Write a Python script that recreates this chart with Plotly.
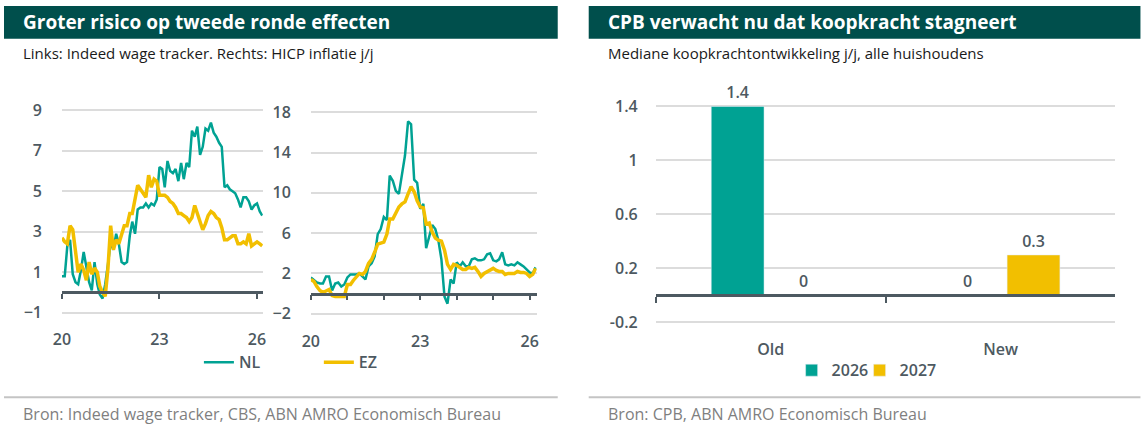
import plotly.graph_objects as go
import pandas as pd

W, H = 1145, 430

# ---------------- data ----------------
months = pd.date_range("2020-01-01", periods=75, freq="MS")

nl_wage = [0.8, 0.8, 2.3, 2.6, 0.9, 0.5, 0.4, 1.1, 2.0, 1.3, 0.5, 0.1,
           1.5, 0.4, -0.1, -0.3, 0.4, 1.4, 2.5, 2.1, 2.9, 2.4, 1.5, 1.4,
           1.5, 2.8, 3.5, 2.9, 4.1, 4.2, 4.2, 4.4, 4.2, 4.4, 4.3, 4.6,
           6.2, 6.1, 5.2, 6.5, 6.0, 5.9, 6.1, 5.5, 6.4, 5.6, 6.4, 6.2,
           8.0, 7.7, 8.2, 6.8, 7.2, 8.1, 8.0, 8.4, 7.9, 7.7, 7.4, 7.2,
           5.2, 5.3, 5.1, 5.0, 4.9, 4.6, 4.2, 4.7, 4.7, 4.5, 4.1, 4.3,
           4.4, 4.0, 3.8]

ez_wage = [2.7, 2.5, 2.4, 3.3, 3.1, 2.0, 1.0, 1.4, 1.1, 0.6, 1.5, 0.9,
           1.2, 1.0, 0.3, 0.0, -0.2, 1.2, 3.3, 2.1, 2.6, 2.4, 2.8, 3.3,
           3.3, 3.9, 3.9, 4.6, 5.3, 5.1, 4.9, 4.7, 5.8, 5.2, 5.6, 5.5,
           4.8, 4.8, 4.8, 4.7, 4.5, 4.4, 4.2, 3.9, 3.9, 3.8, 3.7, 3.5,
           3.7, 4.3, 3.9, 3.6, 3.1, 3.4, 3.8, 4.0, 3.9, 3.7, 3.6, 3.2,
           2.6, 2.6, 2.7, 2.8, 2.8, 2.4, 2.4, 2.5, 2.4, 2.9, 2.3, 2.4,
           2.5, 2.4, 2.3]

nl_hicp = [1.6, 1.3, 1.1, 1.0, 1.0, 1.7, 1.7, 0.3, 1.0, 1.1, 0.7, 0.9,
           1.6, 1.9, 1.9, 1.9, 2.0, 1.7, 1.4, 2.7, 3.0, 3.7, 5.9, 6.4,
           7.6, 7.3, 11.7, 11.2, 10.2, 9.9, 11.6, 13.7, 17.1, 16.8, 11.3, 11.0,
           8.4, 8.9, 4.5, 5.8, 6.8, 6.4, 5.3, 3.4, -0.3, -1.0, 1.4, 1.0,
           3.1, 2.7, 3.1, 2.7, 2.7, 3.4, 3.5, 3.3, 3.3, 3.4, 3.9, 4.0,
           3.3, 3.2, 3.4, 4.1, 2.9, 2.8, 2.9, 2.8, 3.1, 2.9, 2.7, 2.4,
           2.1, 2.0, 2.6]

ez_hicp = [1.4, 1.2, 0.7, 0.3, 0.1, 0.3, 0.4, -0.2, -0.3, -0.3, -0.3, -0.3,
           0.9, 0.9, 1.3, 1.6, 2.0, 1.9, 2.2, 3.0, 3.4, 4.1, 4.9, 5.0,
           5.1, 5.9, 7.4, 7.4, 8.1, 8.6, 8.9, 9.1, 9.9, 10.6, 10.1, 9.2,
           8.6, 8.5, 6.9, 7.0, 6.1, 5.5, 5.3, 5.2, 4.3, 2.9, 2.4, 2.9,
           2.8, 2.6, 2.4, 2.4, 2.6, 2.5, 2.6, 2.2, 1.7, 2.0, 2.2, 2.4,
           2.5, 2.3, 2.2, 2.2, 1.9, 2.0, 2.0, 2.0, 2.2, 2.1, 2.1, 2.0,
           1.7, 1.9, 2.5]

bar_cats = ["Old", "New"]
bar_2026 = [1.4, 0]
bar_2027 = [0, 0.3]

left_xticks = ["2020-01-01", "2023-01-01", "2026-01-01"]
left_xtext = ["20", "23", "26"]
right_xticks = ["2020-01-01", "2021-01-01", "2022-01-01", "2023-01-01",
                "2024-01-01", "2025-01-01", "2026-01-01"]
right_xtext = ["20", "", "", "23", "", "", "26"]
left_yticks = [9, 7, 5, 3, 1, -1]
right_yticks = [18, 14, 10, 6, 2, -2]
bar_yticks = [1.4, 1, 0.6, 0.2, -0.2]
bar_yticktext = ["1.4", "1", "0.6", "0.2", "-0.2"]

# ---------------- style ----------------
TEAL = "#00a293"
YELLOW = "#f2bf00"
DARK = "#004f4c"
AXIS = "#4d5961"
GRID = "#dcdcdc"
FONT = "Open Sans"

# horizontal placement correction measured from the rendered page
XOFF, XSCALE = 8.0, 0.99


def px(x):
    return ((x - XOFF) / XSCALE) / W


def py(y):
    return 1 - y / H


def zero_pos(rng, dom):
    return dom[0] + (0 - rng[0]) / (rng[1] - rng[0]) * (dom[1] - dom[0])


tickfont = dict(family=FONT, size=16, color=AXIS, weight=600)
legfont = dict(family=FONT, size=16, color=AXIS, weight=600)
barfont = dict(family=FONT, size=16, color=AXIS, weight=600)

fig = go.Figure()

fig.add_trace(go.Scatter(x=months, y=nl_wage, mode="lines", name="NL",
                         line=dict(color=TEAL, width=2.5), xaxis="x", yaxis="y",
                         legend="legend"))
fig.add_trace(go.Scatter(x=months, y=nl_hicp, mode="lines", name="NL",
                         line=dict(color=TEAL, width=2.5), xaxis="x2", yaxis="y2",
                         showlegend=False))
fig.add_trace(go.Scatter(x=months, y=ez_wage, mode="lines", name="EZ",
                         line=dict(color=YELLOW, width=3.5), xaxis="x", yaxis="y",
                         legend="legend2"))
fig.add_trace(go.Scatter(x=months, y=ez_hicp, mode="lines", name="EZ",
                         line=dict(color=YELLOW, width=3.5), xaxis="x2", yaxis="y2",
                         showlegend=False))

fig.add_trace(go.Bar(x=bar_cats, y=bar_2026, name="2026", marker_color=TEAL,
                     texttemplate="%{y}", textposition="outside", cliponaxis=False,
                     textfont=barfont, xaxis="x3", yaxis="y3", legend="legend3"))
fig.add_trace(go.Bar(x=bar_cats, y=bar_2027, name="2027", marker_color=YELLOW,
                     texttemplate="%{y}", textposition="outside", cliponaxis=False,
                     textfont=barfont, xaxis="x3", yaxis="y3", legend="legend4"))

ydom_l = [py(324), py(100)]
yr1 = [-1.54, 9.49]
yr2 = [-2.97, 19.16]
ydom_r = [py(336.5), py(92.4)]
yr3 = [-0.3, 1.5]

xcommon = dict(showgrid=False, zeroline=False, showline=True, linecolor=AXIS,
               linewidth=2.5, ticks="outside", ticklen=5, tickwidth=2,
               tickcolor=AXIS, tickfont=tickfont, anchor="free", fixedrange=True)
ycommon = dict(showgrid=True, gridcolor=GRID, gridwidth=1.5, zeroline=False,
               showline=False, tickfont=tickfont, ticks="", fixedrange=True)


def leg(x, y):
    return dict(orientation="h", x=px(x), y=py(y), xanchor="left",
                yanchor="middle", font=legfont, bgcolor="rgba(0,0,0,0)")


fig.update_layout(
    width=W, height=H, margin=dict(l=0, r=0, t=0, b=0),
    paper_bgcolor="white", plot_bgcolor="white",
    font=dict(family=FONT, color=AXIS),
    barmode="group", bargap=0.426, bargroupgap=0.2,
    xaxis=dict(xcommon, domain=[px(61), px(262)], type="date",
               range=["2020-01-01", "2026-03-08"], tickvals=left_xticks,
               ticktext=left_xtext, position=zero_pos(yr1, ydom_l),
               ticklabelstandoff=27),
    yaxis=dict(ycommon, domain=ydom_l, range=yr1, tickvals=left_yticks,
               ticklabelstandoff=19),
    xaxis2=dict(xcommon, domain=[px(310), px(536)], type="date",
                range=["2020-01-01", "2026-03-13"], tickvals=right_xticks,
                ticktext=right_xtext, position=zero_pos(yr2, ydom_l),
                ticklabelstandoff=27),
    yaxis2=dict(ycommon, domain=ydom_l, range=yr2, tickvals=right_yticks,
                ticklabelstandoff=19, anchor="x2"),
    xaxis3=dict(xcommon, domain=[px(655), px(1115)], type="category",
                tickson="boundaries", ticklen=6,
                position=zero_pos(yr3, ydom_r), ticklabelstandoff=39),
    yaxis3=dict(ycommon, domain=ydom_r, range=yr3, tickvals=bar_yticks,
                ticktext=bar_yticktext, ticklabelstandoff=17, anchor="x3"),
    legend=leg(198, 363),
    legend2=leg(318, 363),
    legend3=leg(791, 371),
    legend4=leg(859, 371),
    showlegend=True,
)

# header bars and footer rules
for x0, x1 in [(3, 557), (588, 1140)]:
    fig.add_shape(type="rect", xref="paper", yref="paper",
                  x0=px(x0), x1=px(x1), y0=py(38), y1=py(5),
                  fillcolor=DARK, line=dict(width=0), layer="below")
    fig.add_shape(type="line", xref="paper", yref="paper",
                  x0=px(x0), x1=px(x1), y0=py(398), y1=py(398),
                  line=dict(color="#c4c4c4", width=2))

texts = [
    ("Groter risico op tweede ronde effecten", 20, 21, 19, "white", "bold"),
    ("CPB verwacht nu dat koopkracht stagneert", 605, 21, 19, "white", "bold"),
    ("Links: Indeed wage tracker. Rechts: HICP inflatie j/j", 20, 52, 15, "#1a1a1a", "normal"),
    ("Mediane koopkrachtontwikkeling j/j, alle huishoudens", 605, 52, 15, "#1a1a1a", "normal"),
    ("Bron: Indeed wage tracker, CBS, ABN AMRO Economisch Bureau", 20, 415, 16, "#7f7f7f", "normal"),
    ("Bron: CPB, ABN AMRO Economisch Bureau", 605, 415, 16, "#7f7f7f", "normal"),
]
for t, x, y, s, c, w in texts:
    fig.add_annotation(text=t, xref="paper", yref="paper", x=px(x), y=py(y),
                       xanchor="left", yanchor="middle", showarrow=False,
                       font=dict(family=FONT, size=s, color=c, weight=w))

fig.write_html(
    "out.html",
    config={"displayModeBar": False},
    post_script=("document.body.style.margin='0px';"
                 "document.body.style.overflow='hidden';"
                 "document.documentElement.style.overflow='hidden';"),
)
